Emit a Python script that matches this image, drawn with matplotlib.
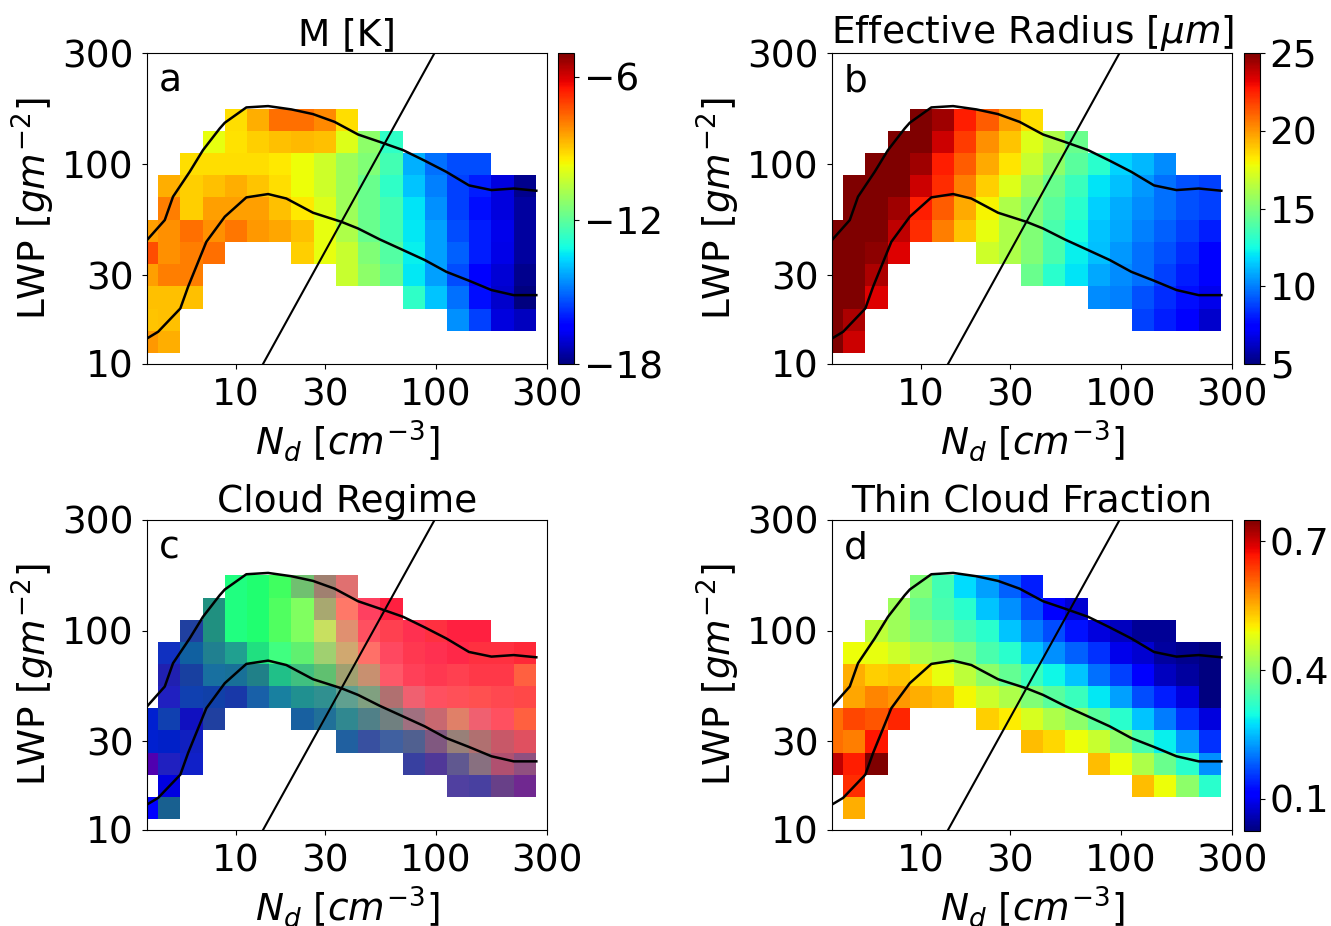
import numpy as np
import matplotlib.pyplot as plt
import matplotlib.colors as mcolors

plt.rcParams['font.family'] = 'DejaVu Sans'
plt.rcParams['mathtext.fontset'] = 'dejavusans'
FS = 27

# grid: 18 Nd bins (columns) x 15 LWP bins (rows), row 0 = bottom
n_nd, n_lwp = 18, 15
nd_ticks = [4, 8, 13, 18]
nd_ticklabels = ['10', '30', '100', '300']
lwp_ticks = [0, 4, 9, 14]
lwp_ticklabels = ['10', '30', '100', '300']

# (row, first column, values)
m_cells = [
    (11, 4, [-9.25, -8.59, -7.72, -7.72, -8.06, -9.25]),
    (10, 3, [-9.81, -9.29, -9.03, -8.81, -8.71, -8.81, -9.94, -11.24, -12.67]),
    (9, 2, [-9.25, -9.25, -9.25, -9.25, -9.37, -9.68, -10.2, -10.98, -11.44, -12.41,
            -14.14, -14.95, -15.36, -15.36]),
    (8, 1, [-8.59, -9.03, -8.81, -8.59, -8.91, -9.25, -9.68, -10.2, -10.98, -11.76,
            -12.67, -13.84, -14.75, -15.56, -15.97, -16.92, -17.82]),
    (7, 1, [-7.93, -9.03, -8.37, -8.37, -8.37, -8.81, -9.37, -9.94, -10.98, -11.76,
            -12.41, -13.45, -14.54, -15.56, -16.18, -16.92, -17.64]),
    (6, 0, [-8.37, -8.16, -7.72, -8.16, -7.82, -8.28, -8.48, -8.81, -9.81, -10.72,
            -11.76, -12.41, -13.39, -14.33, -15.36, -15.97, -16.74, -17.64]),
    (5, 0, [-7.26, -8.16, -7.93, -7.72]),
    (5, 7, [-9.03, -9.81, -10.33, -11.44, -12.15, -13.32, -14.33, -15.15, -15.97,
            -16.83, -17.64]),
    (4, 0, [-8.37, -7.93, -7.93]),
    (4, 9, [-10.33, -11.24, -11.89, -13.39, -14.33, -15.36, -16.44, -17.0, -17.82]),
    (3, 0, [-8.81, -8.81, -8.81]),
    (3, 12, [-12.67, -13.84, -14.95, -16.18, -17.09, -18.0]),
    (2, 0, [-8.91, -8.81]),
    (2, 14, [-14.54, -15.56, -16.92, -17.27]),
    (1, 0, [-8.28, -8.59]),
]

re_cells = [
    (11, 4, [26, 24.4, 22.5, 21.2, 19.8, 18.5]),
    (10, 3, [26, 26, 23.6, 21.9, 20.1, 19.0, 17.4, 16.2, 14.6]),
    (9, 2, [26, 26, 24.4, 22.5, 21.2, 19.6, 18.3, 16.8, 15.4, 14.2, 13.0, 11.7, 11.1, 10.3]),
    (8, 1, [26, 26, 26, 23.6, 22.2, 20.5, 18.8, 17.4, 15.8, 14.6, 13.4, 12.0, 11.3, 10.5,
            9.7, 9.1, 8.8]),
    (7, 1, [26, 26, 24.4, 22.5, 21.2, 19.6, 18.0, 16.2, 15.1, 14.2, 13.0, 11.6, 10.9, 10.3,
            9.7, 9.1, 8.8]),
    (6, 0, [26, 26, 26, 23.9, 22.2, 20.5, 19.0, 17.6, 16.2, 15.1, 13.8, 12.6, 11.4, 10.8,
            10.0, 9.4, 8.8, 8.1]),
    (5, 0, [26, 26, 24.7, 23.3]),
    (5, 7, [17.0, 16.2, 15.1, 13.8, 12.2, 11.3, 10.5, 9.7, 9.1, 8.4, 7.4]),
    (4, 0, [26, 26, 24.2]),
    (4, 9, [14.6, 13.0, 12.0, 10.8, 10.3, 9.7, 8.8, 8.1, 7.4]),
    (3, 0, [26, 26, 23.3]),
    (3, 12, [10.3, 10.0, 9.1, 8.4, 7.8, 6.9]),
    (2, 0, [26, 24.2]),
    (2, 14, [8.8, 8.1, 7.4, 6.4]),
    (1, 0, [26, 23.6]),
]

# cloud regime: RGB composite colours
regime_cells = [
    (11, 4, ['#20FF80', '#20FF70', '#40FF60', '#70C070', '#A08070', '#E07070']),
    (10, 3, ['#209080', '#20FF80', '#20FF70', '#50FF60', '#80FF60', '#A8A870', '#FF7868',
             '#FF4060', '#FF2040']),
    (9, 2, ['#2040A0', '#209080', '#20FF80', '#20FF70', '#50FF60', '#80FF60', '#C8E060',
            '#E09070', '#FF5060', '#FF4050', '#FF3050', '#FF3040', '#FF2040', '#FF2040']),
    (8, 1, ['#1030C0', '#1060A0', '#208090', '#20A090', '#20E080', '#40FF80', '#60F070',
            '#A0D070', '#D0A870', '#FF7068', '#FF4860', '#FF3850', '#FF3050', '#FF2848',
            '#FF3040', '#FF3040', '#FF2838']),
    (7, 1, ['#2020B0', '#1840A0', '#1870A0', '#187098', '#208088', '#20C088', '#40C080',
            '#60C070', '#A0A070', '#C89070', '#FF5868', '#FF4058', '#FF3850', '#FF4050',
            '#FF3848', '#FF3848', '#FF6040']),
    (6, 1, ['#2020C0', '#1040B0', '#1040A8', '#1838A8', '#1860A8', '#1880A0', '#209090',
            '#309090', '#60A090', '#80A080', '#B07070', '#F06070', '#FF5060', '#FF5058',
            '#FF5050', '#FF4850', '#FF4848']),
    (5, 0, ['#0020D0', '#1040B0', '#1010C0', '#2040A0']),
    (5, 7, ['#1860A0', '#207098', '#308890', '#508088', '#708080', '#A07080', '#C86870',
            '#E08068', '#F06070', '#FF5060', '#FF6040']),
    (4, 0, ['#0020D0', '#0020C8', '#1020C0']),
    (4, 9, ['#2060A0', '#3850A0', '#4060A0', '#506090', '#805880', '#988078', '#B07070',
            '#C85868', '#E05060']),
    (3, 0, ['#5000B0', '#2020C0', '#1020C8']),
    (3, 12, ['#3840A0', '#503898', '#605890', '#887080', '#B05070', '#905080']),
    (2, 1, ['#0000E0']),
    (2, 14, ['#5040A0', '#4840A0', '#684088', '#702890']),
    (1, 0, ['#0000FF', '#186090']),
]

thin_cells = [
    (11, 4, [0.391, 0.337, 0.274, 0.229, 0.184, 0.138]),
    (10, 3, [0.417, 0.373, 0.344, 0.315, 0.257, 0.218, 0.172, 0.112, 0.076]),
    (9, 2, [0.446, 0.417, 0.391, 0.373, 0.344, 0.315, 0.257, 0.206, 0.172, 0.127, 0.085,
            0.066, 0.04, 0.04]),
    (8, 1, [0.489, 0.482, 0.46, 0.431, 0.417, 0.391, 0.344, 0.315, 0.257, 0.218, 0.184,
            0.15, 0.095, 0.076, 0.045, 0.035, 0.025]),
    (7, 1, [0.55, 0.525, 0.532, 0.513, 0.482, 0.446, 0.402, 0.366, 0.33, 0.293, 0.257,
            0.195, 0.161, 0.112, 0.066, 0.045, 0.025]),
    (6, 1, [0.556, 0.581, 0.567, 0.55, 0.538, 0.493, 0.46, 0.431, 0.391, 0.358, 0.33,
            0.282, 0.229, 0.172, 0.138, 0.085, 0.025]),
    (5, 0, [0.598, 0.63, 0.617, 0.654]),
    (5, 7, [0.525, 0.501, 0.467, 0.431, 0.402, 0.358, 0.315, 0.257, 0.206, 0.15, 0.085]),
    (4, 0, [0.598, 0.587, 0.667]),
    (4, 9, [0.538, 0.518, 0.489, 0.453, 0.402, 0.344, 0.286, 0.224, 0.15]),
    (3, 0, [0.709, 0.66, 0.75]),
    (3, 12, [0.538, 0.489, 0.431, 0.373, 0.315, 0.218]),
    (2, 1, [0.649]),
    (2, 14, [0.538, 0.489, 0.402, 0.315]),
    (1, 1, [0.55]),
]

# overlay lines (in bin coordinates)
upper_x = [0, 0.8, 1.17, 1.92, 2.52, 3.27, 3.5, 4.47, 5.45, 6.5, 7.47, 8.44, 9.5, 10.47,
           11.52, 12.5, 13.47, 14.49, 15.5, 16.5, 17.52]
upper_y = [5.58, 6.48, 7.53, 8.65, 9.63, 10.6, 10.86, 11.55, 11.61, 11.46, 11.25, 10.9,
           10.33, 10.0, 9.63, 9.15, 8.65, 8.04, 7.83, 7.9, 7.8]
lower_x = [0, 0.5, 1.5, 1.85, 2.67, 3.5, 4.47, 5.45, 6.27, 7.47, 8.75, 9.5, 10.47, 11.52,
           12.5, 13.47, 14.49, 15.5, 16.5, 17.52]
lower_y = [1.15, 1.45, 2.5, 3.48, 5.5, 6.63, 7.5, 7.65, 7.45, 6.81, 6.4, 6.1, 5.61, 5.13,
           4.68, 4.15, 3.75, 3.33, 3.1, 3.1]
diag_x = [5.22, 12.94]
diag_y = [0, 14]


def to_grid(cells):
    g = np.full((n_lwp, n_nd), np.nan)
    for row, c0, vals in cells:
        g[row, c0:c0 + len(vals)] = vals
    return g


def to_rgba(cells):
    g = np.zeros((n_lwp, n_nd, 4))
    for row, c0, cols in cells:
        for k, c in enumerate(cols):
            g[row, c0 + k] = mcolors.to_rgba(c)
    return g


W, H = 1331, 926


def box(l, t, r, b):
    return [l / W, 1 - b / H, (r - l) / W, (b - t) / H]


fig = plt.figure(figsize=(W / 100, H / 100), dpi=100)

panels = [
    ('a', 'M [K]', box(147, 53, 547, 364), to_grid(m_cells), -18, -5, [-6, -12, -18],
     box(558, 53, 574, 364)),
    ('b', r'Effective Radius [$\mu m$]', box(832, 53, 1232, 364), to_grid(re_cells), 5, 25,
     [5, 10, 15, 20, 25], box(1244, 53, 1260, 364)),
    ('c', 'Cloud Regime', box(147, 520, 547, 830), to_rgba(regime_cells), None, None, None,
     None),
    ('d', 'Thin Cloud Fraction', box(832, 520, 1232, 830), to_grid(thin_cells), 0.025, 0.75,
     [0.1, 0.4, 0.7], box(1244, 520, 1260, 831)),
]

for letter, title, pos, grid, vmin, vmax, cticks, cpos in panels:
    ax = fig.add_axes(pos)
    if grid.ndim == 3:
        im = ax.imshow(grid, origin='lower', extent=(-0.5, n_nd - 0.5, -0.5, n_lwp - 0.5),
                       interpolation='nearest', aspect='auto')
    else:
        im = ax.imshow(np.ma.masked_invalid(grid), origin='lower', cmap='jet', vmin=vmin,
                       vmax=vmax, extent=(-0.5, n_nd - 0.5, -0.5, n_lwp - 0.5),
                       interpolation='nearest', aspect='auto')
    ax.plot(upper_x, upper_y, color='black', lw=1.8)
    ax.plot(lower_x, lower_y, color='black', lw=1.8)
    ax.plot(diag_x, diag_y, color='black', lw=1.5)
    ax.set_xlim(0, 18)
    ax.set_ylim(0, 14)
    ax.set_xticks(nd_ticks)
    ax.set_xticklabels(nd_ticklabels)
    ax.set_yticks(lwp_ticks)
    ax.set_yticklabels(lwp_ticklabels)
    ax.tick_params(labelsize=FS, pad=6)
    ax.set_xlabel(r'$N_d$ [$cm^{-3}$]', fontsize=FS, labelpad=4)
    ax.set_ylabel(r'LWP [$gm^{-2}$]', fontsize=FS, labelpad=4)
    ax.set_title(title, fontsize=FS, pad=4)
    ax.text(0.03, 0.875, letter, transform=ax.transAxes, fontsize=FS, va='baseline')
    if cpos is not None:
        cax = fig.add_axes(cpos)
        cb = fig.colorbar(im, cax=cax, ticks=cticks)
        cb.ax.tick_params(labelsize=FS)

fig.savefig('out.png', dpi=100)
